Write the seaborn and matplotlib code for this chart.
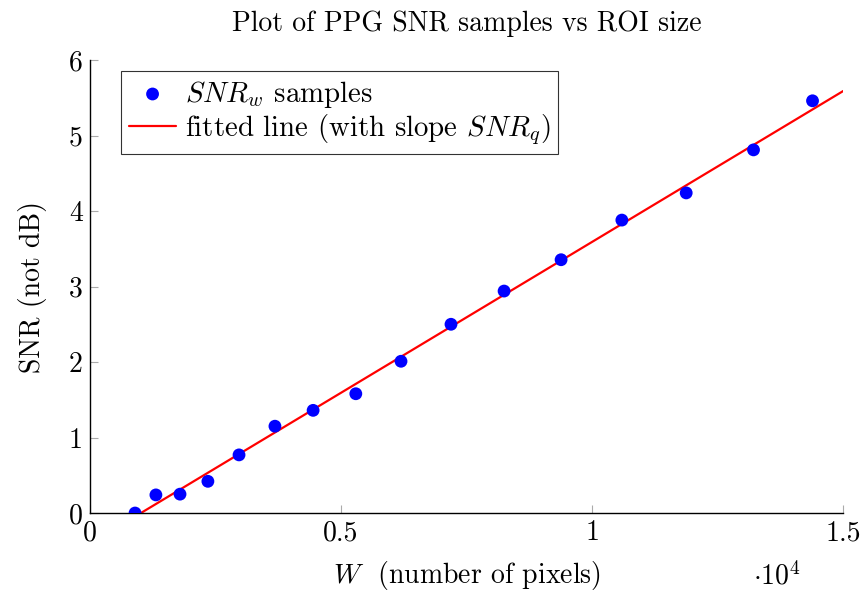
import matplotlib
matplotlib.use("Agg")
import matplotlib.pyplot as plt
import seaborn as sns
import pandas as pd

# ------------------------------------------------------------------
# data
# ------------------------------------------------------------------
roi_pixels = [900, 1315, 1795, 2350, 2970, 3685, 4445, 5295, 6195,
              7190, 8247, 9382, 10592, 11873, 13213, 14388]
snr_samples = [0.00, 0.24, 0.25, 0.42, 0.77, 1.15, 1.36, 1.58, 2.01,
               2.50, 2.94, 3.355, 3.88, 4.24, 4.81, 5.46]

fit_x = [1016, 15000]
fit_y = [0.0, 5.59]

x_ticks = [0, 5000, 10000, 15000]
x_tick_labels = ["0", "0.5", "1", "1.5"]
y_ticks = [0, 1, 2, 3, 4, 5, 6]

samples_df = pd.DataFrame({"W": roi_pixels, "SNR": snr_samples})
fit_df = pd.DataFrame({"W": fit_x, "SNR": fit_y})

sns.set_style("ticks")
plt.rcParams["font.family"] = ["cmr10", "DejaVu Serif"]
plt.rcParams["mathtext.fontset"] = "cm"
plt.rcParams["axes.unicode_minus"] = False
plt.rcParams["text.color"] = "black"
plt.rcParams["axes.labelcolor"] = "black"

FS = 20

fig = plt.figure(figsize=(8.64, 5.92), dpi=100)
ax = fig.add_axes([0.104, 0.1334, 0.872, 0.7652])

sns.scatterplot(data=samples_df, x="W", y="SNR", ax=ax, color="blue",
                s=85, edgecolor="none", label=r"$SNR_w$ samples", zorder=3)
sns.lineplot(data=fit_df, x="W", y="SNR", ax=ax, color="red", linewidth=1.6,
             label=r"fitted line (with slope $SNR_q$)", zorder=2)

ax.set_xlim(0, 15000)
ax.set_ylim(0, 6)
ax.set_xticks(x_ticks)
ax.set_xticklabels(x_tick_labels)
ax.set_yticks(y_ticks)

for side in ["top", "right"]:
    ax.spines[side].set_visible(False)
for side in ["left", "bottom"]:
    ax.spines[side].set_color("black")
    ax.spines[side].set_linewidth(1.0)

ax.tick_params(direction="in", length=6, width=0.8, color="#aaaaaa",
               labelsize=FS, pad=5, labelcolor="black")

ax.set_xlabel(r"$W$  (number of pixels)", fontsize=FS, labelpad=9)
ax.set_ylabel("SNR (not dB)", fontsize=FS, labelpad=16)
ax.set_title("Plot of PPG SNR samples vs ROI size", fontsize=FS, pad=21)
ax.text(0.912, -0.14, r"$\cdot 10^4$", transform=ax.transAxes,
        fontsize=FS, ha="center", va="center")

leg = ax.legend(loc="upper left", bbox_to_anchor=(0.042, 0.975),
                fontsize=20.8, frameon=True, fancybox=False, borderpad=0.25,
                handlelength=1.65, handletextpad=0.3, labelspacing=0.1,
                borderaxespad=0)
leg.get_frame().set_edgecolor("black")
leg.get_frame().set_linewidth(0.8)

fig.savefig("out.png", dpi=100)
